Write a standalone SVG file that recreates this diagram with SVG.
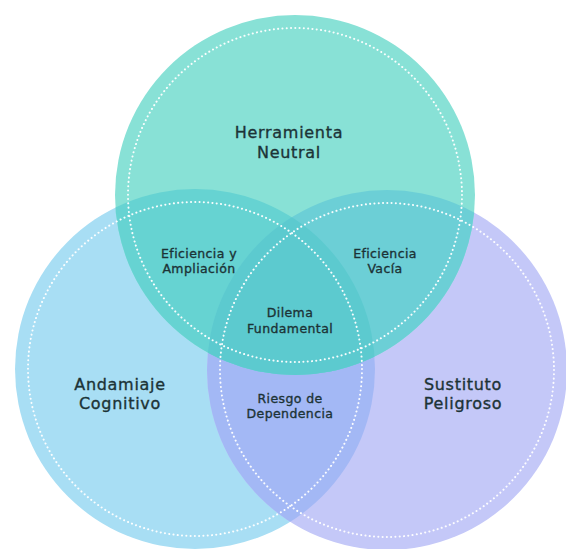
<svg xmlns="http://www.w3.org/2000/svg" width="566" height="549" viewBox="0 0 566 549">
<style>
.dot{fill:none;stroke:#ffffff;stroke-width:2;stroke-dasharray:0.1 4.2;stroke-linecap:round;opacity:0.95}
.big{font-family:"DejaVu Sans","Noto Sans",sans-serif;font-size:16px;fill:#1c3336;stroke:#1c3336;stroke-width:0.35px;text-anchor:middle;letter-spacing:0.7px}
.sm{font-family:"DejaVu Sans","Noto Sans",sans-serif;font-size:12.5px;fill:#1c3336;stroke:#1c3336;stroke-width:0.35px;text-anchor:middle;letter-spacing:0.4px}
</style>
<defs>
<clipPath id="cT"><circle cx="295" cy="195" r="180"/></clipPath>
<clipPath id="cL"><circle cx="195" cy="369" r="180"/></clipPath>
<clipPath id="cR"><circle cx="387" cy="370" r="180"/></clipPath>
</defs>
<rect width="566" height="549" fill="#ffffff"/>
<g id="regions">
<circle cx="195" cy="369" r="180" fill="#a8def4"/>
<circle cx="387" cy="370" r="180" fill="#c4c8f8"/>
<circle cx="295" cy="195" r="180" fill="#88e1d6"/>
<g clip-path="url(#cL)"><circle cx="387" cy="370" r="180" fill="#a3b8f5"/></g>
<g clip-path="url(#cT)"><circle cx="195" cy="369" r="180" fill="#66d3d2"/></g>
<g clip-path="url(#cT)"><circle cx="387" cy="370" r="180" fill="#6ccfd6"/></g>
<g clip-path="url(#cT)"><g clip-path="url(#cL)"><circle cx="387" cy="370" r="180" fill="#5ccacf"/></g></g>
</g>
<g id="connectors">
<circle class="dot" cx="295" cy="195" r="167"/>
<circle class="dot" cx="195" cy="369" r="167"/>
<circle class="dot" cx="387" cy="370" r="167"/>
</g>
<g id="herramienta"><text class="big" x="289" y="138">Herramienta</text><text class="big" x="289" y="158">Neutral</text></g>
<g id="andamiaje"><text class="big" x="120" y="390">Andamiaje</text><text class="big" x="120" y="409">Cognitivo</text></g>
<g id="sustituto"><text class="big" x="463" y="390">Sustituto</text><text class="big" x="463" y="409">Peligroso</text></g>
<g id="eficiencia-ampliacion"><text class="sm" x="199" y="258">Eficiencia y</text><text class="sm" x="199" y="273">Ampliación</text></g>
<g id="eficiencia-vacia"><text class="sm" x="385" y="258">Eficiencia</text><text class="sm" x="385" y="273">Vacía</text></g>
<g id="dilema"><text class="sm" x="290" y="317">Dilema</text><text class="sm" x="290" y="333">Fundamental</text></g>
<g id="riesgo"><text class="sm" x="290" y="403">Riesgo de</text><text class="sm" x="290" y="418">Dependencia</text></g>
</svg>
